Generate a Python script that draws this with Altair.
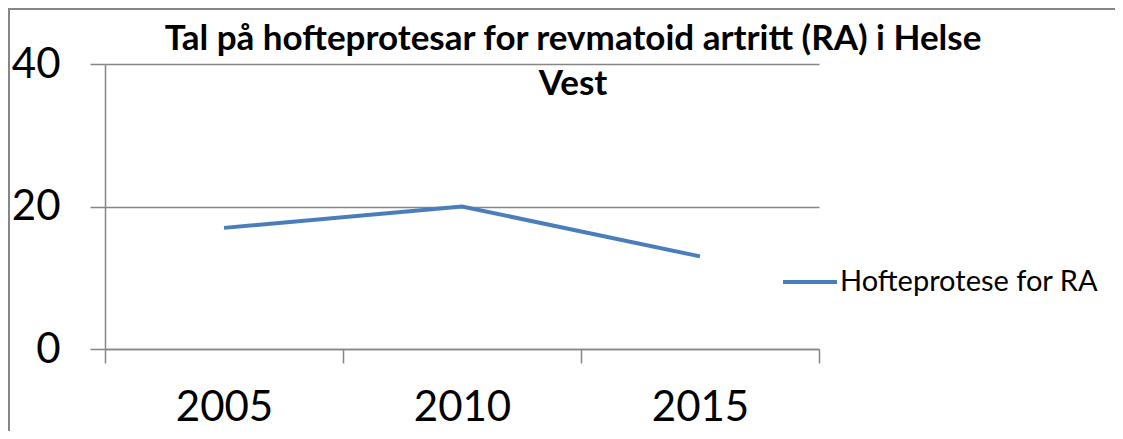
import altair as alt
import pandas as pd

years = ["2005", "2010", "2015"]
values = [17, 20, 13]
series = ["Hofteprotese for RA"] * 3
title_lines = ["Tal på hofteprotesar for revmatoid artritt (RA) i Helse", "Vest"]

df = pd.DataFrame({"year": years, "value": values, "series": series})

FONT = "Lato"
GRAY = "#868686"

line = alt.Chart(df).mark_line(strokeWidth=4).encode(
    x=alt.X("year:O", bandPosition=0.5,
            scale=alt.Scale(type="band", paddingInner=0, paddingOuter=0),
            axis=alt.Axis(title=None, labelAngle=0, tickBand="extent", tickSize=14,
                          labelFontSize=42, labelFont=FONT, labelColor="black",
                          labelPadding=24, domainColor=GRAY, tickColor=GRAY,
                          domainWidth=1.5, tickWidth=1.5, grid=False)),
    y=alt.Y("value:Q", scale=alt.Scale(domain=[0, 40]),
            axis=alt.Axis(title=None, values=[0, 20, 40], tickSize=15, grid=True,
                          gridColor=GRAY, gridWidth=1.5, domainColor=GRAY, tickColor=GRAY,
                          domainWidth=1.5, tickWidth=1.5,
                          labelFontSize=42, labelFont=FONT, labelColor="black",
                          labelPadding=30)),
    color=alt.Color("series:N", scale=alt.Scale(range=["#4A7EBB"]),
                    legend=alt.Legend(title=None, orient="none", legendX=676, legendY=189,
                                      symbolType="stroke", symbolSize=2916,
                                      symbolStrokeWidth=4, labelFontSize=29,
                                      labelFont=FONT, labelColor="black",
                                      labelOffset=1, labelLimit=500, padding=0)),
)

frame_src = pd.DataFrame({"a": [0]})
frame_top = alt.Chart(frame_src).mark_rect(fill=GRAY, strokeWidth=0, clip=False).encode(
    x=alt.value(-97), x2=alt.value(1010), y=alt.value(-56), y2=alt.value(-54)
)
frame_left = alt.Chart(frame_src).mark_rect(fill=GRAY, strokeWidth=0, clip=False).encode(
    x=alt.value(-97), x2=alt.value(-95), y=alt.value(-56), y2=alt.value(380)
)

chart = alt.layer(frame_top, frame_left, line).properties(
    width=714, height=285,
    autosize=alt.AutoSizeParams(type="none"),
    padding={"left": 97, "top": 56, "right": 296, "bottom": 82},
    title=alt.TitleParams(text=title_lines, font=FONT, fontSize=35, fontWeight="bold",
                          color="black", anchor="middle", dx=111, lineHeight=45,
                          offset=-94),
).configure_view(stroke=None)

chart.save("out.html", embed_options={"renderer": "svg", "actions": False})
